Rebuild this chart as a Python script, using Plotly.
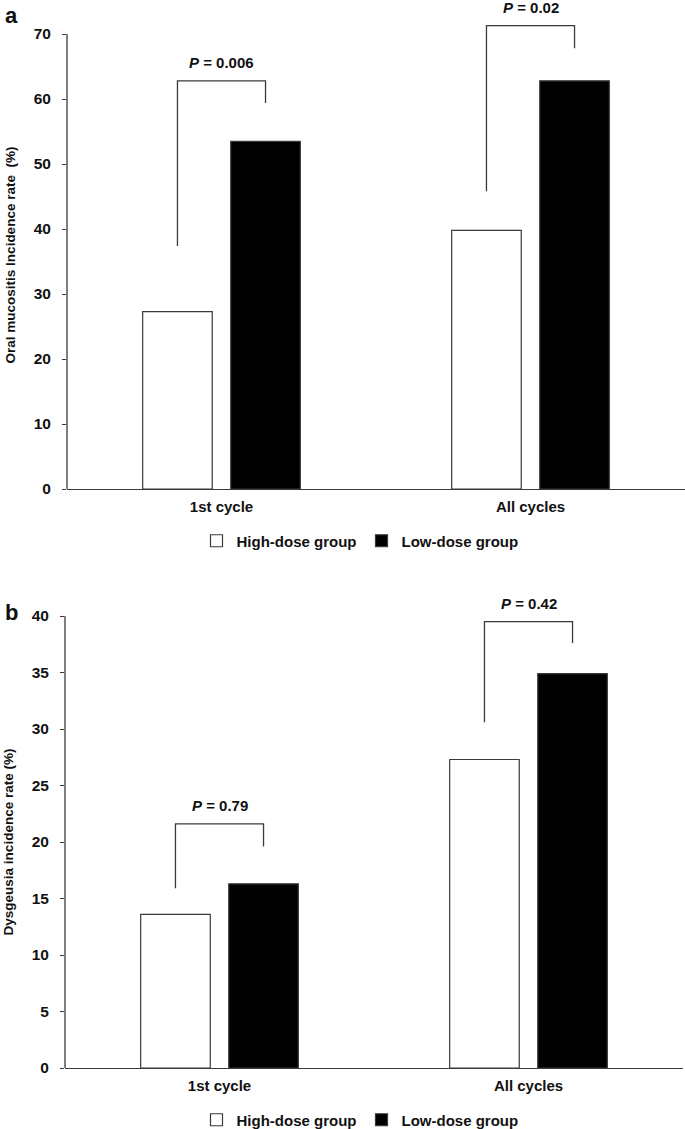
import plotly.graph_objects as go

# ---------------- data ----------------
categories = ["1st cycle", "All cycles"]
series_names = ["High-dose group", "Low-dose group"]

# panel a: oral mucositis incidence (%)
mucositis_high = [27.3, 39.8]
mucositis_low = [53.5, 62.8]
# significance brackets: left-leg bottom, bracket top, right-leg bottom, p-value
mucositis_left = [37.4, 45.8]
mucositis_top = [62.8, 71.3]
mucositis_right = [59.4, 67.8]
mucositis_p = ["0.006", "0.02"]

# panel b: dysgeusia incidence (%)
dysgeusia_high = [13.6, 27.3]
dysgeusia_low = [16.3, 34.9]
dysgeusia_left = [15.9, 30.6]
dysgeusia_top = [21.6, 39.5]
dysgeusia_right = [19.6, 37.6]
dysgeusia_p = ["0.79", "0.42"]

a_ticks = [0, 10, 20, 30, 40, 50, 60, 70]
b_ticks = [0, 5, 10, 15, 20, 25, 30, 35, 40]

# ---------------- style ----------------
FONT = "Liberation Sans, Arial, sans-serif"
INK = "#111111"
LINE = "#3a3a3a"
BARGAP = 0.43
BARGROUPGAP = 0.21
W, H = 685, 1129

xpos = list(range(len(categories)))
slot = (1 - BARGAP) / 2.0
offs = slot / 2.0

fig = go.Figure()

panels = [
    dict(xa="x", ya="y", high=mucositis_high, low=mucositis_low,
         left=mucositis_left, top=mucositis_top, right=mucositis_right,
         p=mucositis_p, legend="legend", ymax=a_ticks[-1]),
    dict(xa="x2", ya="y2", high=dysgeusia_high, low=dysgeusia_low,
         left=dysgeusia_left, top=dysgeusia_top, right=dysgeusia_right,
         p=dysgeusia_p, legend="legend2", ymax=b_ticks[-1]),
]

annotations = []
shapes = []
for pn in panels:
    fig.add_trace(go.Bar(
        x=xpos, y=pn["high"], name=series_names[0],
        marker=dict(color="white", line=dict(color=LINE, width=1.2)),
        xaxis=pn["xa"], yaxis=pn["ya"], legend=pn["legend"],
        hoverinfo="skip"))
    fig.add_trace(go.Bar(
        x=xpos, y=pn["low"], name=series_names[1],
        marker=dict(color="black", line=dict(color=LINE, width=1.2)),
        xaxis=pn["xa"], yaxis=pn["ya"], legend=pn["legend"],
        hoverinfo="skip"))
    for i in xpos:
        fig.add_trace(go.Scatter(
            x=[i - offs, i - offs, i + offs, i + offs],
            y=[pn["left"][i], pn["top"][i], pn["top"][i], pn["right"][i]],
            mode="lines", line=dict(color=LINE, width=1.3),
            showlegend=False, hoverinfo="skip",
            xaxis=pn["xa"], yaxis=pn["ya"]))
        annotations.append(dict(
            x=i, y=pn["top"][i], xref=pn["xa"], yref=pn["ya"], yshift=18,
            text="<i>P</i> = " + pn["p"][i], showarrow=False,
            font=dict(family=FONT, size=15, color=INK, weight="bold"),
            xanchor="center", yanchor="middle"))
    # value axis line, from 0 up to the top tick only
    shapes.append(dict(type="line", xref=pn["xa"] + " domain", yref=pn["ya"],
                       x0=0, x1=0, y0=0, y1=pn["ymax"],
                       line=dict(color=LINE, width=1.3)))

annotations.append(dict(x=11 / W, y=1 - 15 / H, xref="paper", yref="paper",
                        text="a", showarrow=False, xanchor="center", yanchor="middle",
                        font=dict(family=FONT, size=22, color=INK, weight="bold")))
annotations.append(dict(x=11 / W, y=1 - 612 / H, xref="paper", yref="paper",
                        text="b", showarrow=False, xanchor="center", yanchor="middle",
                        font=dict(family=FONT, size=22, color=INK, weight="bold")))

tickfont = dict(family=FONT, size=15, color=INK, weight="bold")
ytickfont = dict(family=FONT, size=15.5, color=INK, weight="bold")

def xaxis(domain, anchor):
    return dict(domain=domain, range=[-0.5, 1.5], tickvals=xpos, ticktext=categories,
                anchor=anchor, automargin=False,
                showline=True, linecolor=LINE, linewidth=1.3, ticks="",
                showgrid=False, zeroline=False, tickfont=tickfont,
                ticklabelstandoff=4, fixedrange=True)

def yaxis(domain, rng, ticks, title, anchor):
    return dict(domain=domain, range=rng, tickvals=ticks, anchor=anchor,
                automargin=False, showline=False,
                ticks="outside", ticklen=4, tickcolor=LINE, tickwidth=1.2,
                showgrid=False, zeroline=False, tickfont=ytickfont,
                ticklabelstandoff=8, fixedrange=True,
                title=dict(text=title, standoff=14,
                           font=dict(family=FONT, size=13.5, color=INK, weight="bold")))

A_RANGE = [0, 72]
B_RANGE = [0, 40]
a_bottom, a_scale = 489, 6.5     # px of zero line, px per unit
b_bottom, b_scale = 1068, 11.3

fig.update_layout(
    width=W, height=H,
    margin=dict(l=0, r=0, t=0, b=0, autoexpand=False),
    paper_bgcolor="white", plot_bgcolor="white",
    barmode="group", bargap=BARGAP, bargroupgap=BARGROUPGAP,
    xaxis=xaxis([67 / W, 1.0], "y"),
    yaxis=yaxis([1 - a_bottom / H, 1 - (a_bottom - A_RANGE[1] * a_scale) / H], A_RANGE, a_ticks,
                "Oral mucositis Incidence rate\u00a0\u00a0(%)", "x"),
    xaxis2=xaxis([65 / W, 683 / W], "y2"),
    yaxis2=yaxis([1 - b_bottom / H, 1 - (b_bottom - B_RANGE[1] * b_scale) / H], B_RANGE, b_ticks,
                 "Dysgeusia incidence rate (%)", "x2"),
    legend=dict(orientation="h", x=360 / W, y=1 - 541 / H, xanchor="center", yanchor="middle",
                font=dict(family=FONT, size=15, color=INK, weight="bold"),
                itemwidth=30, bgcolor="rgba(0,0,0,0)"),
    legend2=dict(orientation="h", x=360 / W, y=1 - 1120 / H, xanchor="center", yanchor="middle",
                 font=dict(family=FONT, size=15, color=INK, weight="bold"),
                 itemwidth=30, bgcolor="rgba(0,0,0,0)"),
    annotations=annotations,
    shapes=shapes,
    showlegend=True,
)

fig.write_html(
    "out.html",
    config={"displayModeBar": False},
    post_script="document.body.style.margin='0px';document.body.style.overflow='hidden';",
)
